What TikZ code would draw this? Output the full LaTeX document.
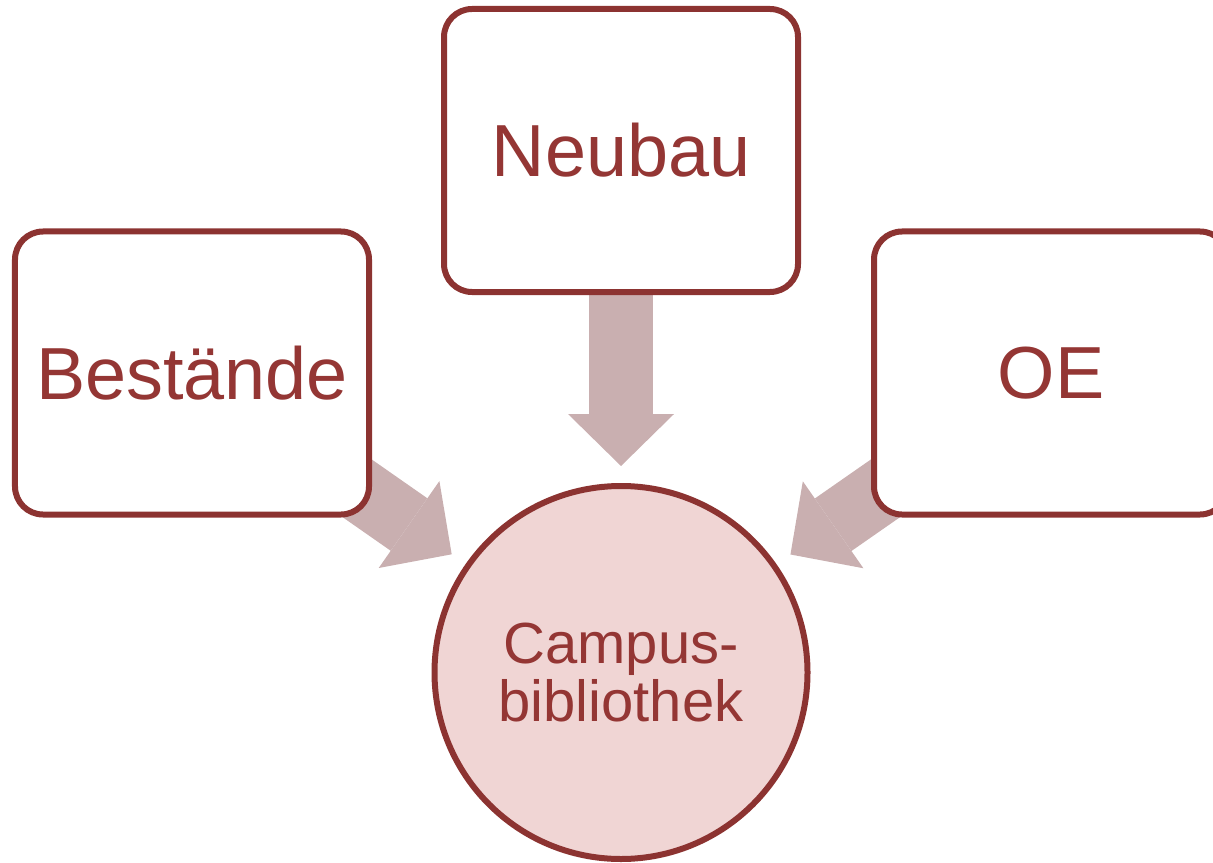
\documentclass[tikz,border=0pt]{standalone}
\usepackage{fontspec}
\setmainfont{Liberation Sans}
\usetikzlibrary{shapes,arrows.meta,positioning,backgrounds}
\definecolor{rim}{RGB}{140,51,49}
\definecolor{ink}{RGB}{148,54,52}
\definecolor{shade}{RGB}{201,175,176}
\definecolor{pink}{RGB}{240,213,212}

\begin{document}
\begin{tikzpicture}[% styles for the whole picture
			every node/.style={
				align=center,	% so that "\\" breaks the line
				text=ink,
				font=\fontsize{42}{44}\selectfont
			},
			box/.style={rectangle,rounded corners=0.56cm,line width=0.12cm,draw=rim,fill=white,
				minimum width=7.08cm,minimum height=5.66cm},
			every edge/.style={draw=shade,line width=1.28cm,
				-{Triangle[length=1.04cm,width=2.12cm,line width=0pt]},shorten >=0.34cm}
		]
		\useasboundingbox (0,0) rectangle (24.26,-17.24);
		\node[circle,line width=0.12cm,draw=rim,fill=pink,minimum size=7.46cm,
			font=\fontsize{33}{33}\selectfont](campus) at (12.42,-13.45){Campus-\\bibliothek};
		\node[box](neubau)[above=3.76cm of campus]{Neubau};
		\node[box](bestand)[left=1.38cm of neubau,yshift=-4.45cm]{Bestände};
		\node[box](oe)[right=1.4cm of neubau,yshift=-4.45cm]{OE};
		\begin{pgfonlayer}{background}
		\path
		(neubau.center)edge []	node [] {} (campus)
		(bestand.center)edge []	node [] {} (campus)
		(oe.center)edge []	node [] {} (campus)
		;
		\end{pgfonlayer}
	\end{tikzpicture}
\end{document}
